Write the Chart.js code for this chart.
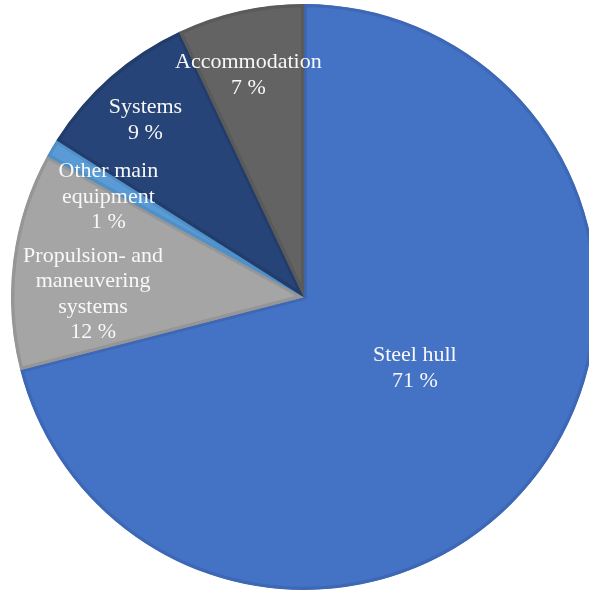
<!DOCTYPE html>
<html>
<head>
<meta charset="utf-8">
<script src="https://cdn.jsdelivr.net/npm/chart.js@4.4.0/dist/chart.umd.min.js"></script>
<style>
  html, body { margin: 0; padding: 0; background: #fff; overflow: hidden; }
  body { width: 589px; height: 592px; position: relative; }
  #wrap { position: absolute; left: 11px; top: 4px; width: 586px; height: 586px; }
</style>
</head>
<body>
<div id="wrap"><canvas id="grafico"></canvas></div>
<script>
// categorias e percentuais (sentido horário a partir do topo)
const categorias = [
  ["Steel hull"],
  ["Propulsion- and", "maneuvering", "systems"],
  ["Other main", "equipment"],
  ["Systems"],
  ["Accommodation"]
];
const percentuais = [71, 12, 1, 9, 7];
const cores = ["#4472C4", "#A5A5A5", "#5B9BD5", "#264478", "#636363"];
const bordas = ["#3D68B6", "#969696", "#5090C8", "#223D6C", "#5A5A5A"];

// posição dos rótulos: fração do raio e desvio de ângulo (graus)
const posRotulo = [
  [0.45, -5],
  [0.72, -6.5],
  [0.75, -3.5],
  [0.81, -0.5],
  [0.78, -1.5]
];

// plugin simples para escrever os rótulos dentro das fatias
const rotulos = {
  id: "rotulos",
  afterDatasetsDraw(chart) {
    const ctx = chart.ctx;
    const arcos = chart.getDatasetMeta(0).data;
    ctx.save();
    ctx.fillStyle = "#F8F8F8";
    ctx.font = "22px 'Liberation Serif', 'Times New Roman', serif";
    ctx.textAlign = "center";
    ctx.textBaseline = "middle";
    const alturaLinha = 25.5;
    arcos.forEach((arco, i) => {
      const p = arco.getProps(["x", "y", "startAngle", "endAngle", "outerRadius"], true);
      const meio = (p.startAngle + p.endAngle) / 2 + posRotulo[i][1] * Math.PI / 180;
      const r = p.outerRadius * posRotulo[i][0];
      const cx = p.x + Math.cos(meio) * r;
      const cy = p.y + Math.sin(meio) * r;
      const linhas = categorias[i].concat([percentuais[i] + " %"]);
      const topo = cy - (linhas.length - 1) * alturaLinha / 2;
      linhas.forEach((t, j) => ctx.fillText(t, cx, topo + j * alturaLinha));
    });
    ctx.restore();
  }
};

new Chart(document.getElementById("grafico"), {
  type: "pie",
  data: {
    labels: categorias.map(c => c.join(" ")),
    datasets: [{
      data: percentuais,
      backgroundColor: cores,
      borderColor: bordas,
      borderWidth: 3,
      borderAlign: "inner"
    }]
  },
  options: {
    responsive: true,
    maintainAspectRatio: false,
    animation: false,
    layout: { padding: 0 },
    plugins: {
      legend: { display: false },
      tooltip: { enabled: false }
    }
  },
  plugins: [rotulos]
});
</script>
</body>
</html>
